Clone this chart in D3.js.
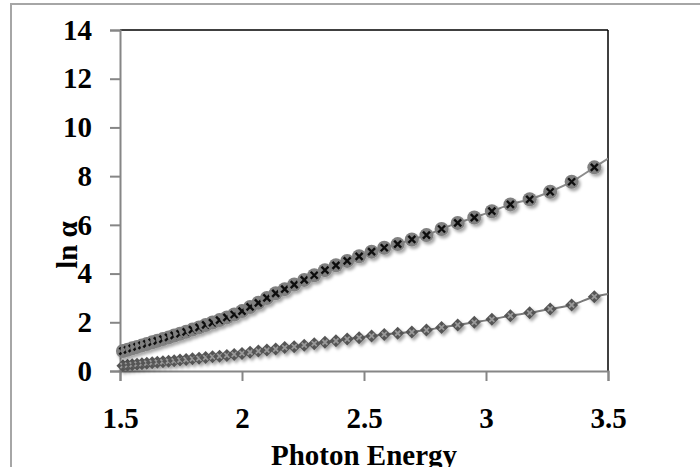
<!DOCTYPE html>
<html>
<head>
<meta charset="utf-8">
<script src="https://cdn.jsdelivr.net/npm/d3@7"></script>
<style>
  body { margin: 0; background: #fff; }
  text { font-family: "Liberation Serif", "Times New Roman", serif; font-weight: bold; }
</style>
</head>
<body>
<svg class="chart" width="700" height="467"></svg>
<script>
// photon energy (eV) of every sample point
var energy = [1.512, 1.531, 1.550, 1.570, 1.590, 1.610, 1.632, 1.653, 1.676, 1.699,
  1.722, 1.746, 1.771, 1.797, 1.824, 1.851, 1.879, 1.908, 1.938, 1.968,
  2.000, 2.033, 2.067, 2.102, 2.138, 2.175, 2.214, 2.255, 2.296, 2.340,
  2.385, 2.431, 2.480, 2.531, 2.583, 2.638, 2.696, 2.756, 2.818, 2.884,
  2.952, 3.024, 3.100, 3.179, 3.263, 3.351, 3.444];

// ln alpha, upper series (circles)
var upperVals = [0.82, 0.87, 0.93, 0.99, 1.05, 1.11, 1.18, 1.24, 1.31, 1.38,
  1.46, 1.53, 1.61, 1.70, 1.79, 1.89, 1.99, 2.09, 2.20, 2.32,
  2.46, 2.63, 2.80, 3.00, 3.19, 3.36, 3.55, 3.74, 3.93, 4.14,
  4.34, 4.52, 4.71, 4.90, 5.06, 5.21, 5.40, 5.58, 5.83, 6.08,
  6.30, 6.56, 6.84, 7.05, 7.36, 7.77, 8.36];

// ln alpha, lower series (diamonds)
var lowerVals = [0.22, 0.24, 0.26, 0.28, 0.30, 0.32, 0.34, 0.36, 0.38, 0.40,
  0.42, 0.45, 0.47, 0.50, 0.52, 0.55, 0.58, 0.61, 0.64, 0.68,
  0.72, 0.77, 0.82, 0.86, 0.90, 0.96, 1.00, 1.06, 1.12, 1.18,
  1.24, 1.31, 1.37, 1.44, 1.50, 1.55, 1.60, 1.68, 1.79, 1.89,
  2.00, 2.12, 2.27, 2.39, 2.55, 2.71, 3.05];

// where the lines leave the plot on the right
var edgeEnergy = 3.5;
var upperEdge = 8.72;
var lowerEdge = 3.16;

var xTicks = [1.5, 2, 2.5, 3, 3.5];
var xTickLabels = ["1.5", "2", "2.5", "3", "3.5"];
var yTicks = [0, 2, 4, 6, 8, 10, 12, 14];

var plot = { left: 120, right: 608, top: 30, bottom: 371 };

var svg = d3.select(".chart");

var x = d3.scaleLinear().domain([1.5, 3.5]).range([plot.left, plot.right]);
var y = d3.scaleLinear().domain([0, 14]).range([plot.bottom, plot.top]);

var defs = svg.append("defs");
defs.append("clipPath").attr("id", "plotclip")
  .append("rect")
  .attr("x", plot.left).attr("y", plot.top)
  .attr("width", plot.right - plot.left).attr("height", plot.bottom - plot.top);

var shadow = defs.append("filter").attr("id", "shadow")
  .attr("x", "-50%").attr("y", "-50%").attr("width", "200%").attr("height", "200%");
shadow.append("feDropShadow")
  .attr("dx", 2).attr("dy", 2.5)
  .attr("stdDeviation", 1.6)
  .attr("flood-color", "#000")
  .attr("flood-opacity", 0.35);

// outer border (only left and top are in view)
svg.append("rect")
  .attr("x", 11).attr("y", 4)
  .attr("width", 720).attr("height", 500)
  .attr("fill", "none")
  .attr("stroke", "#a6a6a6")
  .attr("stroke-width", 2);

// top and right frame
svg.append("line")
  .attr("x1", plot.left).attr("x2", plot.right)
  .attr("y1", plot.top).attr("y2", plot.top)
  .attr("stroke", "#000").attr("stroke-width", 1.5);
svg.append("line")
  .attr("x1", plot.right).attr("x2", plot.right)
  .attr("y1", plot.top).attr("y2", plot.bottom)
  .attr("stroke", "#000").attr("stroke-width", 1.5);

// axes
var yAxis = svg.append("g")
  .attr("transform", "translate(" + plot.left + ",0)")
  .call(d3.axisLeft(y).tickValues(yTicks).tickSize(10).tickPadding(18).tickFormat(d3.format("d")));

var xAxis = svg.append("g")
  .attr("transform", "translate(0," + plot.bottom + ")")
  .call(d3.axisBottom(x).tickValues(xTicks).tickSize(10).tickPadding(26)
    .tickFormat(function (d, i) { return xTickLabels[i]; }));

[xAxis, yAxis].forEach(function (g) {
  g.select(".domain").attr("stroke", "#868686").attr("stroke-width", 2);
  g.selectAll(".tick line").attr("stroke", "#868686").attr("stroke-width", 2);
  g.selectAll(".tick text")
    .attr("fill", "#000")
    .style("font-size", "29px")
    .style("font-family", "'Liberation Serif', 'Times New Roman', serif")
    .style("font-weight", "bold");
});

// axis titles
svg.append("text")
  .attr("x", (plot.left + plot.right) / 2)
  .attr("y", 465)
  .attr("text-anchor", "middle")
  .style("font-size", "29px")
  .text("Photon Energy");

svg.append("text")
  .attr("transform", "translate(77,245) rotate(-90)")
  .attr("text-anchor", "middle")
  .style("font-size", "29px")
  .text("ln α");

// series
var upper = energy.map(function (e, i) { return { e: e, v: upperVals[i] }; });
var lower = energy.map(function (e, i) { return { e: e, v: lowerVals[i] }; });

var line = d3.line()
  .x(function (d) { return x(d.e); })
  .y(function (d) { return y(d.v); })
  .curve(d3.curveMonotoneX);

var lines = svg.append("g").attr("clip-path", "url(#plotclip)");
lines.append("path")
  .datum(lower.concat([{ e: edgeEnergy, v: lowerEdge }]))
  .attr("d", line)
  .attr("fill", "none")
  .attr("stroke", "#7a7a7a")
  .attr("stroke-width", 2);
lines.append("path")
  .datum(upper.concat([{ e: edgeEnergy, v: upperEdge }]))
  .attr("d", line)
  .attr("fill", "none")
  .attr("stroke", "#8c8c8c")
  .attr("stroke-width", 2);

// diamond markers
var dia = svg.append("g").attr("filter", "url(#shadow)")
  .selectAll("g").data(lower).join("g")
  .attr("transform", function (d) { return "translate(" + x(d.e) + "," + y(d.v) + ")"; });
dia.append("path")
  .attr("d", "M0,-6.5L6.5,0L0,6.5L-6.5,0Z")
  .attr("fill", "#555");
dia.append("path")
  .attr("d", "M-2.5,-2.5L2.5,2.5M-2.5,2.5L2.5,-2.5")
  .attr("stroke", "#999")
  .attr("stroke-width", 1.8);

// circle markers with x
var circ = svg.append("g").attr("filter", "url(#shadow)")
  .selectAll("g").data(upper).join("g")
  .attr("transform", function (d) { return "translate(" + x(d.e) + "," + y(d.v) + ")"; });
circ.append("circle")
  .attr("r", 7)
  .attr("fill", "#808080");
circ.append("path")
  .attr("d", "M-3.5,-3.5L3.5,3.5M-3.5,3.5L3.5,-3.5")
  .attr("stroke", "#111")
  .attr("stroke-width", 2.4);
</script>
</body>
</html>
